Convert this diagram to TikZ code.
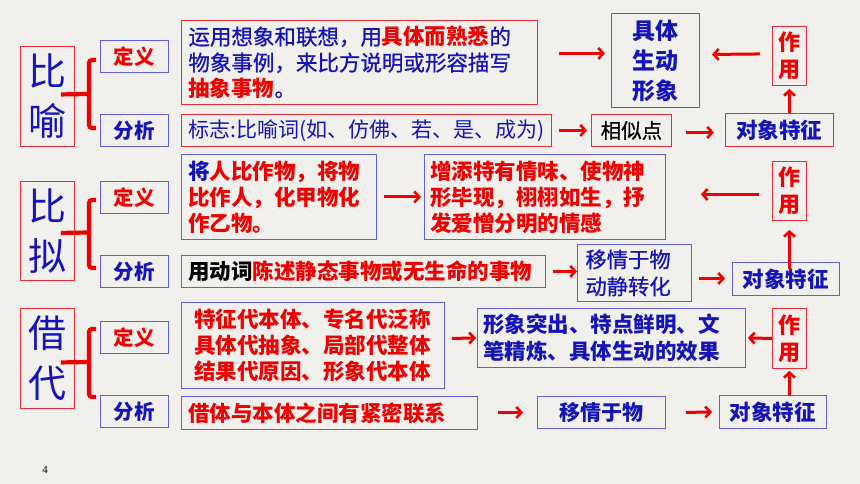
\documentclass[tikz,border=0pt]{standalone}
\usepackage{fontspec}
\setmainfont{Noto Sans CJK SC}
\newfontfamily\medfont[FakeBold=0.8]{Noto Sans CJK SC}
\newfontfamily\numfont{Liberation Serif}
\usetikzlibrary{arrows.meta,calc}
\definecolor{tblue}{RGB}{20,20,185}
\definecolor{tred}{RGB}{240,0,0}
\definecolor{boxblue}{RGB}{95,95,220}
\definecolor{boxred}{RGB}{235,45,55}
\definecolor{bgc}{RGB}{242,240,237}
\newcommand\setfs[2]{\fontsize{#1}{#2}\selectfont}
\tikzset{
  bx/.style={draw=boxblue, line width=0.9pt, inner sep=0pt, anchor=north west},
  rbx/.style={draw=boxred, line width=0.9pt, inner sep=0pt, anchor=north west},
  bigl/.style={rbx, minimum width=54pt, minimum height=100pt, text=tblue, align=center, font=\setfs{38}{50}},
  deflab/.style={bx, minimum width=68pt, minimum height=32pt, text=tred, font=\setfs{20.5}{24}\bfseries},
  analab/.style={bx, minimum width=68pt, minimum height=32pt, text=tblue, font=\setfs{20.5}{24}\bfseries},
  zuoyong/.style={rbx, minimum width=34pt, text=tred, align=center, font=\setfs{22}{27}\bfseries},
  duix/.style={minimum height=33pt, text=tblue, font=\setfs{21.5}{26}\bfseries},
  arr/.style={draw=tred, line width=3pt, -{Straight Barb[length=5pt,width=11pt,line width=2.6pt]}},
  brk/.style={draw=tred, line width=4.2pt, rounded corners=3pt},
}
\begin{document}
\begin{tikzpicture}[x=1pt,y=-1pt]
\fill[bgc] (0,0) rectangle (860,484);
\useasboundingbox (0,0) rectangle (860,484);

% ---------------- Row 1: 比喻 ----------------
\node[bigl] (L1) at (20,46) {比\\喻};
\node[deflab] (D1) at (100,40) {定义};
\node[analab] (A1) at (100,114) {分析};
\draw[brk] (96,60) -- (89,60) -- (89,128) -- (96,128);
\draw[brk] ([xshift=-14pt,yshift=2pt]L1.east) -- (89,94);

\node[rbx, minimum width=356pt, minimum height=84pt, inner xsep=7pt, text width=342pt, align=left,
      text=tblue, font=\setfs{21.5}{26}\medfont] (T1) at (181,20)
  {运用想象和联想，用\textcolor{tred}{\normalfont\bfseries 具体而熟悉}的\\物象事例，来比方说明或形容描写\\\textcolor{tred}{\normalfont\bfseries 抽象事物}。};
\node[rbx, minimum width=370pt, minimum height=32pt, inner xsep=7pt, text width=356pt, align=left,
      text=tblue, font=\setfs{21}{24}] (B1) at (181,114) {标志:比喻词(如、仿佛、若、是、成为)};
\node[rbx, minimum width=88pt, minimum height=94pt, align=center, text=tblue, font=\setfs{23}{30}\bfseries] (S1) at (611,13) {具体\\生动\\形象};
\node[zuoyong, minimum height=59pt] (Z1) at (772,26) {作\\用};
\node[rbx, minimum width=80pt, minimum height=32pt, text=black, font=\setfs{20.5}{24}\medfont] (X1) at (591,114) {相似点};
\node[rbx, duix, minimum width=108pt] (O1) at (725,113) {对象特征};

\draw[arr] ([xshift=21pt,yshift=9pt]T1.east) -- ([xshift=-6pt,yshift=7pt]S1.west);
\draw[arr] ([xshift=-12pt,yshift=2pt]Z1.west) -- ([xshift=12pt,yshift=6pt]S1.east);
\draw[arr] ([xshift=7pt,yshift=0pt]B1.east) -- ([xshift=-4pt,yshift=0pt]X1.west);
\draw[arr] ([xshift=14pt,yshift=-2pt]X1.east) -- ([xshift=-11pt,yshift=-2.5pt]O1.west);
\draw[arr] (O1.north -| Z1.south) -- ([yshift=-3pt]Z1.south);

% ---------------- Row 2: 比拟 ----------------
\node[bigl, minimum height=99pt] (L2) at (20,181) {比\\拟};
\node[deflab] (D2) at (100,181) {定义};
\node[analab] (A2) at (100,255) {分析};
\draw[brk] (96,200) -- (89,200) -- (89,268) -- (96,268);
\draw[brk] ([xshift=-14pt,yshift=-2pt]L2.east) -- (89,232.5);

\node[bx, minimum width=195pt, minimum height=85pt, inner xsep=7pt, text width=181pt, align=left,
      text=tred, font=\setfs{21.5}{26}\bfseries] (T2) at (181,154)
  {\textcolor{tblue}{将}人比作物，将物\\比作人，化甲物化\\作乙物。};
\node[bx, minimum width=241pt, minimum height=85pt, inner xsep=6pt, text width=229pt, align=left,
      text=tred, font=\setfs{21.5}{26}\bfseries] (R2) at (424,154)
  {增添特有情味、使物神\\形毕现，栩栩如生，抒\\发爱憎分明的情感};
\node[zuoyong, minimum height=59pt] (Z2) at (772,161) {作\\用};
\node[bx, minimum width=364pt, minimum height=32pt, inner xsep=7pt, text width=350pt, align=left,
      text=tred, font=\setfs{21.5}{26}\bfseries] (B2) at (181,255)
  {\textcolor{black}{用动词}陈述静态事物或无生命的事物};
\node[bx, minimum width=114pt, minimum height=57pt, inner xsep=8pt, text width=98pt, align=left,
      text=tblue, font=\setfs{21.3}{27}\medfont] (M2) at (577,244) {移情于物\\动静转化};
\node[bx, duix, minimum width=107pt] (O2) at (732,262) {对象特征};

\draw[arr] ([xshift=7pt,yshift=0pt]T2.east) -- ([xshift=-3pt,yshift=0pt]R2.west);
\draw[arr] ([xshift=-13pt,yshift=-3.5pt]Z2.west) -- ([xshift=35pt,yshift=2.5pt]R2.east);
\draw[arr] ([xshift=7pt]B2.east) -- ([yshift=1.5pt]M2.west);
\draw[arr] ([xshift=7pt,yshift=-5.5pt]M2.east) -- ([xshift=-7pt,yshift=0.5pt]O2.west);
\draw[arr] ([yshift=-7pt]O2.north -| Z2.south) -- ([yshift=-9pt]Z2.south);

% ---------------- Row 3: 借代 ----------------
\node[bigl] (L3) at (20,308) {借\\代};
\node[deflab] (D3) at (100,321) {定义};
\node[analab] (A3) at (100,395) {分析};
\draw[brk] (96,329) -- (89,329) -- (89,397) -- (96,397);
\draw[brk] ([xshift=-14pt,yshift=-4pt]L3.east) -- (89,362);

\node[bx, minimum width=263pt, minimum height=86pt, inner xsep=13pt, text width=237pt, align=left,
      text=tred, font=\setfs{21.5}{26}\bfseries] (T3) at (181,302)
  {特征代本体、专名代泛称\\具体代抽象、局部代整体\\结果代原因、形象代本体};
\node[bx, minimum width=268pt, minimum height=59pt, inner xsep=6pt, text width=256pt, align=left,
      text=tblue, font=\setfs{21.5}{27}\bfseries] (R3) at (477,308)
  {形象突出、特点鲜明、文\\笔精炼、具体生动的效果};
\node[zuoyong, minimum height=60pt] (Z3) at (772,308) {作\\用};
\node[bx, minimum width=296pt, minimum height=33pt, inner xsep=7pt, text width=282pt, align=left,
      text=tred, font=\setfs{21.5}{26}\bfseries] (B3) at (181,396) {借体与本体之间有紧密联系};
\node[bx, minimum width=128pt, minimum height=32pt, text=tblue, font=\setfs{21}{26}\bfseries] (M3) at (537,396) {移情于物};
\node[bx, duix, minimum width=107pt] (O3) at (719,395) {对象特征};

\draw[arr] ([xshift=7pt,yshift=7pt]T3.east) -- ([xshift=-1pt]R3.west);
\draw[arr] (Z3.west) -- ([xshift=2pt]R3.east);
\draw[arr] ([xshift=20pt,yshift=0.5pt]B3.east) -- ([xshift=-14pt]M3.west);
\draw[arr] ([xshift=20pt]M3.east) -- ([xshift=-7pt]O3.west);
\draw[arr] (O3.north -| Z3.south) -- ([yshift=-2pt]Z3.south);

\node[font=\numfont\fontsize{11}{13}\selectfont, text=black] (pg) at (45,470) {4};
\end{tikzpicture}
\end{document}
